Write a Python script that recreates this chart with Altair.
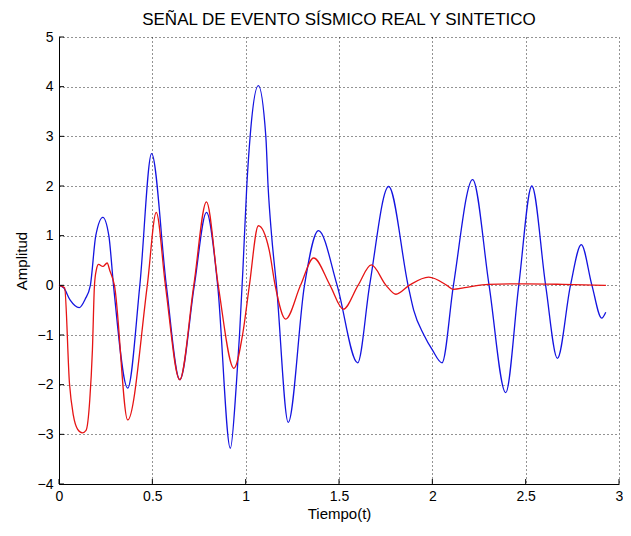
import altair as alt
import pandas as pd

# Blue series (real event)
blue_t = [0.000, 0.025, 0.060, 0.108, 0.140, 0.168, 0.197, 0.235, 0.267, 0.292,
          0.368, 0.433, 0.496, 0.575, 0.647, 0.725, 0.790, 0.850, 0.918, 0.950,
          0.967, 0.985, 1.006, 1.024, 1.068, 1.108, 1.120, 1.139, 1.165, 1.228,
          1.315, 1.390, 1.490, 1.600, 1.664, 1.766, 1.870, 1.900, 1.955, 2.000,
          2.052, 2.113, 2.216, 2.304, 2.393, 2.463, 2.533, 2.607, 2.670, 2.740,
          2.798, 2.855, 2.907, 2.929]
blue_a = [0.00, -0.05, -0.30, -0.45, -0.28, 0.00, 1.00, 1.37, 1.00, 0.00,
          -2.07, 0.00, 2.65, 0.00, -1.90, 0.00, 1.47, 0.00, -3.28, -2.00,
          -1.00, 0.30, 2.00, 3.00, 4.02, 3.00, 2.00, 1.00, 0.00, -2.76,
          0.00, 1.10, 0.00, -1.56, 0.00, 1.99, 0.00, -0.50, -1.00, -1.30,
          -1.56, 0.00, 2.13, 0.00, -2.16, 0.00, 2.00, 0.00, -1.47, 0.00,
          0.82, 0.00, -0.66, -0.54]

# Red series (synthetic)
red_t = [0.000, 0.030, 0.056, 0.077, 0.100, 0.125, 0.145, 0.165, 0.179, 0.190,
         0.200, 0.212, 0.235, 0.258, 0.272, 0.297, 0.368, 0.473, 0.521, 0.570,
         0.647, 0.722, 0.790, 0.853, 0.937, 0.985, 1.020, 1.068, 1.126, 1.158,
         1.214, 1.294, 1.364, 1.452, 1.523, 1.602, 1.673, 1.752, 1.805, 1.876,
         1.980, 2.078, 2.110, 2.184, 2.300, 2.500, 2.700, 2.930]
red_a = [0.00, -0.05, -1.97, -2.62, -2.90, -2.97, -2.92, -2.30, -1.30, 0.00,
         0.31, 0.42, 0.38, 0.45, 0.30, 0.00, -2.71, 0.00, 1.47, 0.00,
         -1.90, 0.00, 1.68, 0.00, -1.67, -0.96, 0.00, 1.20, 0.71, 0.00,
         -0.68, 0.00, 0.55, 0.00, -0.48, 0.00, 0.41, 0.00, -0.18, 0.00,
         0.165, 0.00, -0.08, -0.04, 0.02, 0.03, 0.02, 0.00]

x_ticks = [0, 0.5, 1, 1.5, 2, 2.5, 3]
y_ticks = [-4, -3, -2, -1, 0, 1, 2, 3, 4, 5]

FONT = "Liberation Sans"
W, H = 560, 447

blue_df = pd.DataFrame({"t": blue_t, "a": blue_a})
red_df = pd.DataFrame({"t": red_t, "a": red_a})
xt_df = pd.DataFrame({"t": x_ticks})
yt_df = pd.DataFrame({"a": y_ticks})

xscale = alt.Scale(domain=[0, 3], nice=False, zero=False)
yscale = alt.Scale(domain=[-4, 5], nice=False, zero=False)

xaxis = alt.Axis(values=x_ticks, title="Tiempo(t)", grid=True, ticks=False,
                 labelPadding=5, titlePadding=3, labelFlush=False,
                 labelExpr="datum.value")
yaxis = alt.Axis(values=y_ticks, title="Amplitud", grid=True, ticks=False,
                 labelPadding=6, titlePadding=8)

X = alt.X("t:Q", scale=xscale, axis=xaxis)
Y = alt.Y("a:Q", scale=yscale, axis=yaxis)

blue = alt.Chart(blue_df).mark_line(color="#1414e0", strokeWidth=1.3,
                                    interpolate="monotone").encode(x=X, y=Y)
red = alt.Chart(red_df).mark_line(color="#e61414", strokeWidth=1.3,
                                  interpolate="monotone").encode(x=X, y=Y)
yt = alt.Chart(yt_df).mark_rule(color="black", strokeWidth=1).encode(
    y=Y, x=alt.value(0), x2=alt.value(5),
)
xt = alt.Chart(xt_df).mark_rule(color="black", strokeWidth=1).encode(
    x=X, y=alt.value(H), y2=alt.value(H - 5),
)

chart = alt.layer(blue, red, yt, xt).properties(
    width=W, height=H,
    title=alt.Title("SEÑAL DE EVENTO SÍSMICO REAL Y SINTETICO",
                    fontSize=17, font=FONT, fontWeight="normal",
                    color="black", offset=1, anchor="middle"),
    autosize=alt.AutoSizeParams(type="none"),
    padding={"left": 51, "top": 29, "right": 4, "bottom": 44},
).configure_view(stroke=None).configure_axis(
    domainColor="black", domainWidth=1,
    gridColor="black", gridDash=[1, 3], gridOpacity=0.85, gridWidth=1,
    labelFont=FONT, labelFontSize=14, labelColor="black",
    titleFont=FONT, titleFontSize=15, titleColor="black", titleFontWeight="normal",
)

chart.save("out.html", embed_options={"renderer": "svg", "actions": False})
